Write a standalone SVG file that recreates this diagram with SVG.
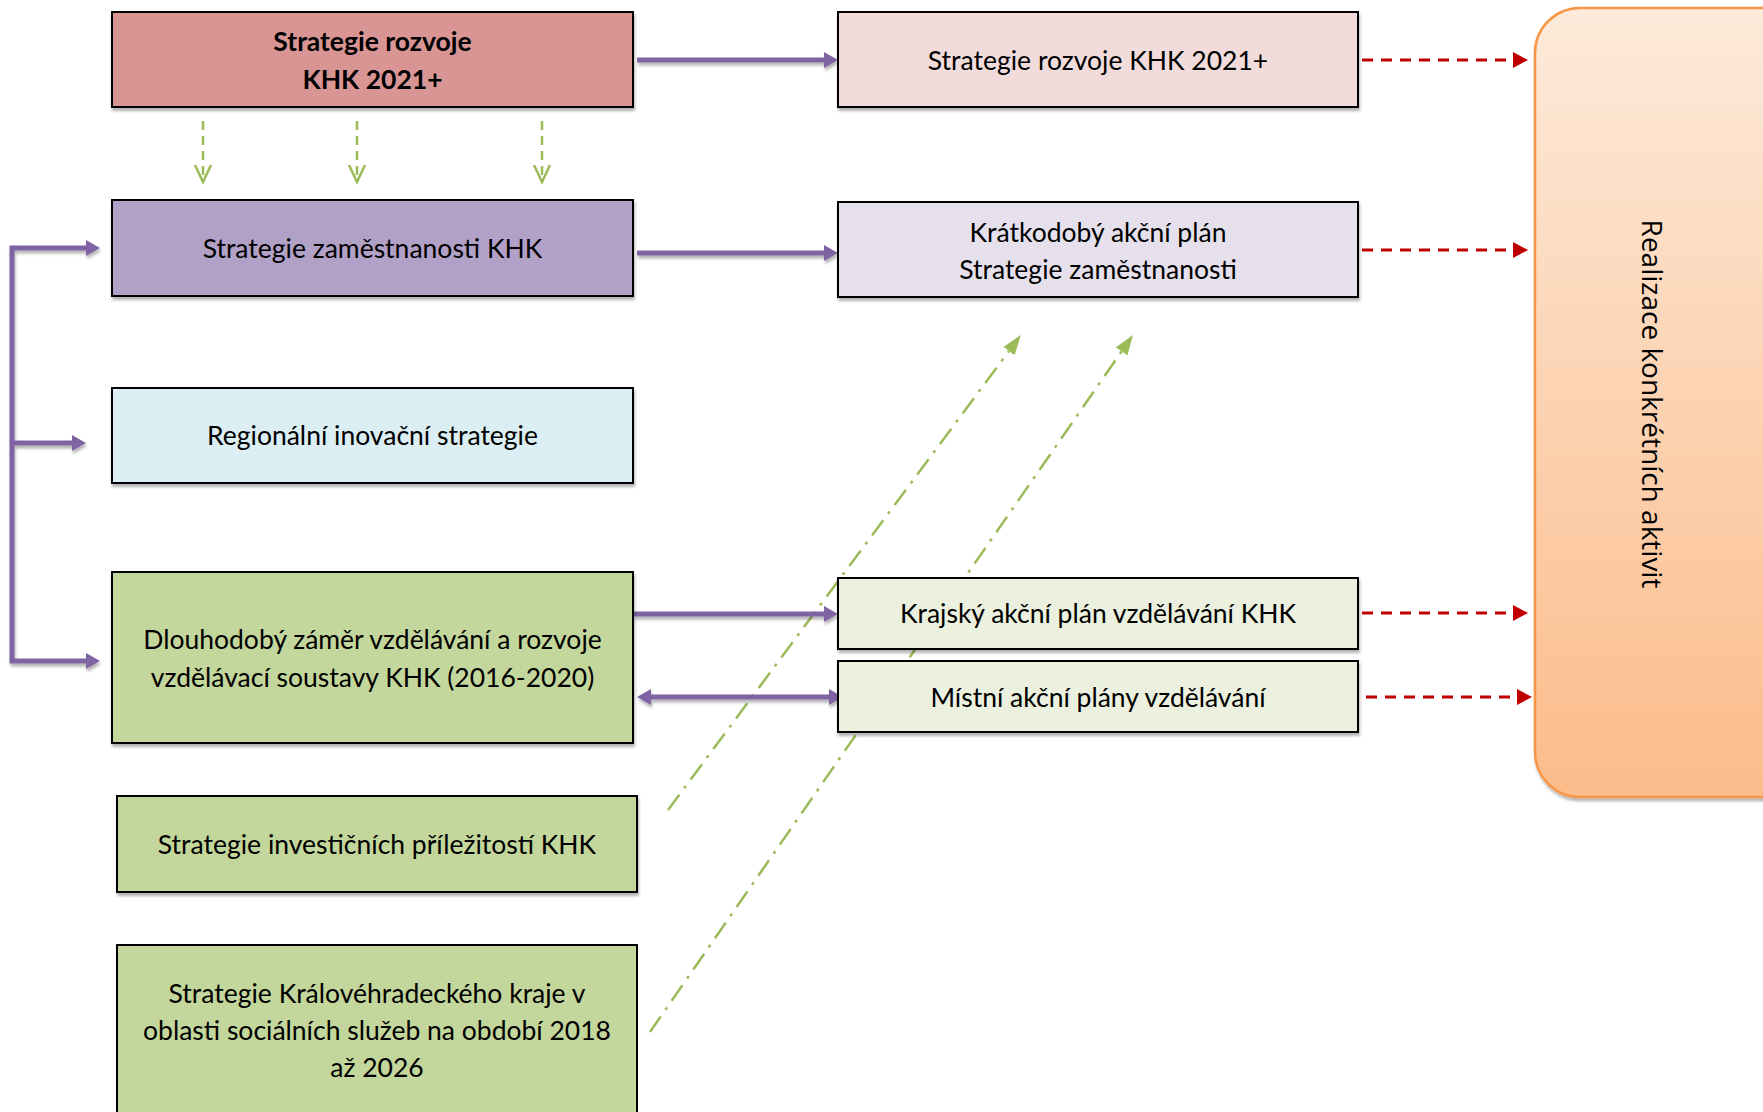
<svg xmlns="http://www.w3.org/2000/svg" width="1763" height="1112" viewBox="0 0 1763 1112">
<style>
  .box { stroke: #000; stroke-width: 2; }
  .t { font-family: Lato, "Liberation Sans", sans-serif; font-size: 26.5px; fill: #000; text-anchor: middle; }
  .tb { font-weight: bold; }
  .purple { fill: none; stroke: #8064A2; stroke-width: 5; }
  .red { fill: none; stroke: #C00000; stroke-width: 3; stroke-dasharray: 11 8; }
  .gdown { fill: none; stroke: #9BBB59; stroke-width: 2.5; stroke-dasharray: 9 6; }
  .gdd { fill: none; stroke: #9BBB59; stroke-width: 2.5; stroke-dasharray: 19 8 3 8; }
</style>
<defs>
  <marker id="pArrow" markerUnits="userSpaceOnUse" markerWidth="16" markerHeight="18" refX="0" refY="8" orient="auto-start-reverse">
    <path d="M0,0 L14,8 L0,16 z" fill="#8064A2"/>
  </marker>
  <marker id="rArrow" markerUnits="userSpaceOnUse" markerWidth="18" markerHeight="18" refX="0" refY="8" orient="auto">
    <path d="M0,0 L15,8 L0,16 z" fill="#C00000"/>
  </marker>
  <marker id="gOpen" markerUnits="userSpaceOnUse" markerWidth="22" markerHeight="22" refX="17" refY="9" orient="auto">
    <path d="M0,1 L17,9 L0,17" fill="none" stroke="#9BBB59" stroke-width="2.5"/>
  </marker>
  <marker id="gFill" markerUnits="userSpaceOnUse" markerWidth="22" markerHeight="16" refX="0" refY="7" orient="auto">
    <path d="M0,0 L20,7 L0,14 z" fill="#9BBB59"/>
  </marker>
  <linearGradient id="orangeGrad" x1="0" y1="0" x2="0" y2="1">
    <stop offset="0" stop-color="#FDEADA"/>
    <stop offset="1" stop-color="#FBBC8A"/>
  </linearGradient>
  <filter id="shadow" x="-10%" y="-10%" width="130%" height="140%">
    <feDropShadow dx="1" dy="3" stdDeviation="1.5" flood-color="#000" flood-opacity="0.3"/>
  </filter>
</defs>

<g id="connectors">
  <!-- green dash-dot lines (behind boxes) -->
  <path class="gdd" d="M668,810 L1009,351" marker-end="url(#gFill)"/>
  <path class="gdd" d="M650,1032 L1121.6,351.4" marker-end="url(#gFill)"/>
  <!-- green dashed down arrows -->
  <path class="gdown" d="M203,121 V182" marker-end="url(#gOpen)"/>
  <path class="gdown" d="M357,121 V182" marker-end="url(#gOpen)"/>
  <path class="gdown" d="M542,121 V182" marker-end="url(#gOpen)"/>
  <!-- purple arrows -->
  <g filter="url(#shadow)">
    <path class="purple" d="M637,60 H824" marker-end="url(#pArrow)"/>
    <path class="purple" d="M637,253 H824" marker-end="url(#pArrow)"/>
    <path class="purple" d="M633,614 H824" marker-end="url(#pArrow)"/>
    <path class="purple" d="M651,697 H829" marker-start="url(#pArrow)" marker-end="url(#pArrow)"/>
    <path class="purple" d="M86,248 H12 V661 H86" marker-start="url(#pArrow)" marker-end="url(#pArrow)"/>
    <path class="purple" d="M12,443 H72" marker-end="url(#pArrow)"/>
  </g>
  <!-- red dashed arrows -->
  <path class="red" d="M1362,60 H1513" marker-end="url(#rArrow)"/>
  <path class="red" d="M1362,250 H1513" marker-end="url(#rArrow)"/>
  <path class="red" d="M1362,613 H1513" marker-end="url(#rArrow)"/>
  <path class="red" d="M1366,697 H1517" marker-end="url(#rArrow)"/>
</g>

<g id="node-strategie-rozvoje">
  <rect class="box" x="112" y="12" width="521" height="95" fill="#D99594" filter="url(#shadow)"/>
  <text class="t tb" x="372.5" y="51">Strategie rozvoje</text>
  <text class="t tb" x="372.5" y="89">KHK 2021+</text>
</g>
<g id="node-strategie-zamestnanosti">
  <rect class="box" x="112" y="200" width="521" height="96" fill="#B2A1C7" filter="url(#shadow)"/>
  <text class="t" x="372.5" y="257.5">Strategie zaměstnanosti KHK</text>
</g>
<g id="node-ris">
  <rect class="box" x="112" y="388" width="521" height="95" fill="#DBEEF3" filter="url(#shadow)"/>
  <text class="t" x="372.5" y="445">Regionální inovační strategie</text>
</g>
<g id="node-dlouhodoby-zamer">
  <rect class="box" x="112" y="572" width="521" height="171" fill="#C3D69B" filter="url(#shadow)"/>
  <text class="t" x="372.5" y="649">Dlouhodobý záměr vzdělávání a rozvoje</text>
  <text class="t" x="372.5" y="687">vzdělávací soustavy KHK (2016-2020)</text>
</g>
<g id="node-investicni">
  <rect class="box" x="117" y="796" width="520" height="96" fill="#C3D69B" filter="url(#shadow)"/>
  <text class="t" x="377" y="853.5">Strategie investičních příležitostí KHK</text>
</g>
<g id="node-socialni">
  <rect class="box" x="117" y="945" width="520" height="180" fill="#C3D69B"/>
  <text class="t" x="377" y="1003">Strategie Královéhradeckého kraje v</text>
  <text class="t" x="377" y="1040">oblasti sociálních služeb na období 2018</text>
  <text class="t" x="377" y="1077">až 2026</text>
</g>
<g id="node-rozvoje-right">
  <rect class="box" x="838" y="12" width="520" height="95" fill="#F2DCDB" filter="url(#shadow)"/>
  <text class="t" x="1098" y="70">Strategie rozvoje KHK 2021+</text>
</g>
<g id="node-kratkodoby">
  <rect class="box" x="838" y="202" width="520" height="95" fill="#E5E0EC" filter="url(#shadow)"/>
  <text class="t" x="1098" y="242">Krátkodobý akční plán</text>
  <text class="t" x="1098" y="279">Strategie zaměstnanosti</text>
</g>
<g id="node-krajsky">
  <rect class="box" x="838" y="578" width="520" height="71" fill="#EBF1DE" filter="url(#shadow)"/>
  <text class="t" x="1098" y="623">Krajský akční plán vzdělávání KHK</text>
</g>
<g id="node-mistni">
  <rect class="box" x="838" y="661" width="520" height="71" fill="#EBF1DE" filter="url(#shadow)"/>
  <text class="t" x="1098" y="707">Místní akční plány vzdělávání</text>
</g>
<g id="node-realizace">
  <rect x="1535" y="8" width="300" height="789" rx="45" ry="45" fill="url(#orangeGrad)" stroke="#F79646" stroke-width="2.5" filter="url(#shadow)"/>
  <text transform="translate(1642,404) rotate(90)" x="0" y="0" font-family="'Open Sans', 'DejaVu Sans', sans-serif" font-size="28" text-anchor="middle" fill="#000">Realizace konkrétních aktivit</text>
</g>
</svg>
